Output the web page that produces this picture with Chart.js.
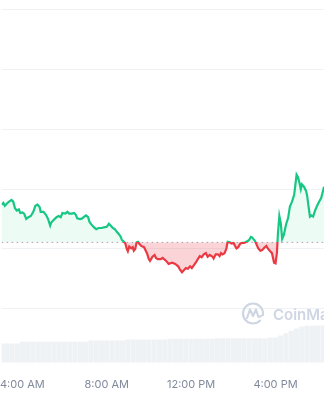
<!DOCTYPE html>
<html>
<head>
<meta charset="utf-8">
<script src="https://cdn.jsdelivr.net/npm/chart.js@4.4.0/dist/chart.umd.min.js"></script>
<style>
  html, body { margin: 0; padding: 0; background: #fff; }
  #wrap { width: 324px; height: 400px; position: relative; }
</style>
</head>
<body>
<div id="wrap"><canvas id="priceChart"></canvas></div>
<script>
// minutes since midnight
const times = [181,186,190,196,202,209,214,219,224,230,234,240,245,251,257,264,271,277,283,289,292,300,307,313,319,322,330,337,343,349,354,362,368,373,381,387,392,396,404,410,416,421,427,431,436,444,450,457,465,472,480,486,491,497,503,508,514,520,523,529,533,537,540,544,550,554,557,561,565,569,572,578,586,591,595,599,603,606,610,616,620,625,633,639,649,656,666,675,683,688,694,700,705,711,717,722,728,733,739,745,750,756,762,767,773,781,784,790,796,801,805,809,815,820,824,830,835,841,845,849,854,860,866,871,877,883,886,890,894,898,901,905,911,917,922,928,934,939,945,950,956,960,964,967,971,975,979,984,990,996,1001,1007,1013,1016,1020,1024,1028,1032,1035,1041,1047,1050,1054,1058,1062,1067,1073,1079,1084,1090,1096,1098];
const prices = [101.74,101.77,101.72,101.76,101.79,101.82,101.79,101.68,101.64,101.66,101.60,101.61,101.59,101.50,101.53,101.55,101.62,101.72,101.74,101.70,101.62,101.62,101.57,101.50,101.39,101.44,101.49,101.53,101.55,101.53,101.60,101.59,101.62,101.59,101.59,101.60,101.57,101.51,101.50,101.51,101.54,101.56,101.53,101.45,101.41,101.36,101.33,101.35,101.35,101.36,101.37,101.42,101.39,101.35,101.33,101.29,101.25,101.20,101.15,101.12,101.09,101.00,100.96,101.04,101.01,101.03,100.97,101.00,101.11,101.12,101.09,101.05,101.03,100.97,100.92,100.84,100.80,100.83,100.87,100.90,100.85,100.83,100.83,100.85,100.80,100.75,100.77,100.75,100.71,100.66,100.61,100.65,100.68,100.67,100.71,100.68,100.73,100.77,100.83,100.88,100.86,100.91,100.93,100.87,100.90,100.87,100.84,100.91,100.91,100.88,100.93,100.91,100.93,101.00,101.12,101.11,101.09,101.10,101.05,101.01,101.03,101.09,101.10,101.10,101.12,101.14,101.16,101.20,101.19,101.16,101.14,101.09,101.01,100.97,100.98,101.02,101.05,101.00,100.96,100.93,100.77,100.76,100.93,101.26,101.55,101.43,101.17,101.24,101.41,101.52,101.71,101.79,101.90,102.04,102.24,102.20,102.11,102.00,102.08,102.04,101.97,101.89,101.71,101.54,101.56,101.54,101.65,101.73,101.79,101.85,101.99,102.04];
const openPrice = 101.11;

const volTimes = [180,195,210,225,240,255,270,285,300,315,330,345,360,375,390,405,420,435,450,465,480,495,510,525,540,555,570,585,600,615,630,645,660,675,690,705,720,735,750,765,780,795,810,825,840,855,870,885,900,915,930,945,960,975,990,1005,1020,1035,1050,1065,1080,1095];
const volumes = [97,97,97,97,105,105,105,105,105,105,105,105,105,105,105,105,105,112,112,112,112,112,112,112,117,117,117,117,117,117,117,117,120,120,120,120,120,120,120,120,120,123,123,123,123,123,123,123,123,123,123,127,127,137,148,160,172,182,185,185,186,186];

const tickTimes = [240, 480, 720, 960];
const tickLabels = ['4:00 AM', '8:00 AM', '12:00 PM', '4:00 PM'];
const priceTicks = [100, 101, 102, 103, 104, 105];

const GREEN = '#16c784';
const RED = '#ea3943';

function splitColor(ctx, up, down) {
  const chart = ctx.chart;
  const area = chart.chartArea;
  if (!area) return up;
  const yb = chart.scales.y.getPixelForValue(openPrice);
  const s = Math.min(1, Math.max(0, (yb - area.top) / (area.bottom - area.top)));
  const g = chart.ctx.createLinearGradient(0, area.top, 0, area.bottom);
  g.addColorStop(0, up);
  g.addColorStop(s, up);
  g.addColorStop(s, down);
  g.addColorStop(1, down);
  return g;
}

const watermark = {
  id: 'watermark',
  beforeDatasetsDraw(chart) {
    const c = chart.ctx;
    c.save();
    c.strokeStyle = '#cfd6e3';
    c.fillStyle = '#cfd6e3';
    c.lineWidth = 2.2;
    c.lineCap = 'round';
    c.lineJoin = 'round';
    c.beginPath();
    c.arc(253, 313.5, 10, 0.25 * Math.PI, 2.05 * Math.PI);
    c.stroke();
    c.beginPath();
    c.moveTo(247, 318);
    c.lineTo(250, 309.5);
    c.lineTo(253, 316);
    c.lineTo(256, 309.5);
    c.lineTo(258.5, 317);
    c.lineTo(261, 316);
    c.stroke();
    c.font = '600 15px "Inter", "Noto Sans", sans-serif';
    c.textBaseline = 'alphabetic';
    c.fillText('CoinMarketCap', 273, 320);
    c.restore();
  }
};

new Chart(document.getElementById('priceChart'), {
  type: 'line',
  data: {
    datasets: [
      {
        label: 'Price',
        data: times.map((t, i) => ({ x: t, y: prices[i] })),
        yAxisID: 'y',
        borderWidth: 2.2,
        pointRadius: 0,
        tension: 0,
        borderColor: ctx => splitColor(ctx, GREEN, RED),
        fill: { target: { value: openPrice }, above: 'rgba(22,199,132,0.08)', below: 'rgba(234,57,67,0.22)' },
        order: 1
      },
      {
        label: 'Open',
        data: [{ x: times[0], y: openPrice }, { x: times[times.length - 1], y: openPrice }],
        yAxisID: 'y',
        borderColor: '#a1a7bb',
        borderWidth: 1,
        borderDash: [1.5, 3.5],
        pointRadius: 0,
        fill: false,
        order: 2
      },
      {
        type: 'bar',
        label: 'Volume',
        data: volTimes.map((t, i) => ({ x: t, y: volumes[i] })),
        yAxisID: 'y2',
        backgroundColor: '#eff2f5',
        barPercentage: 0.985,
        categoryPercentage: 1,
        order: 3
      }
    ]
  },
  options: {
    responsive: true,
    maintainAspectRatio: false,
    animation: false,
    layout: { padding: { left: 0, right: 0, top: 0, bottom: 9 } },
    plugins: { legend: { display: false }, tooltip: { enabled: false } },
    scales: {
      x: {
        type: 'linear',
        min: 181,
        max: 1098,
        offset: false,
        grid: { display: false, drawTicks: true, tickLength: 15 },
        border: { display: false },
        afterBuildTicks: axis => { axis.ticks = tickTimes.map(v => ({ value: v })); },
        ticks: {
          autoSkip: false,
          maxRotation: 0,
          padding: 0,
          color: '#808a9d',
          font: { family: 'Inter', size: 11 },
          callback: v => tickLabels[tickTimes.indexOf(v)]
        }
      },
      y: {
        position: 'right',
        min: 99.098,
        max: 105.159,
        afterBuildTicks: axis => { axis.ticks = priceTicks.map(v => ({ value: v })); },
        ticks: { display: false },
        grid: { color: '#eff2f5', drawTicks: false, lineWidth: 1 },
        border: { display: false }
      },
      y2: {
        display: false,
        min: 0,
        max: 1815
      }
    }
  },
  plugins: [watermark]
});
</script>
</body>
</html>
